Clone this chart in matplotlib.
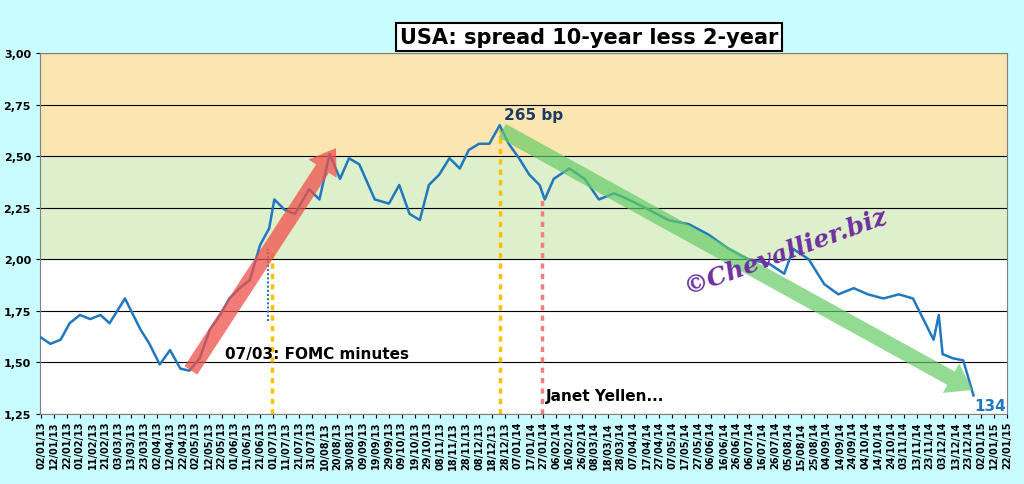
import numpy as np
import matplotlib
matplotlib.use("Agg")
import matplotlib.pyplot as plt

# ── data (days after 02/01/2013, spread in %) ──────────────────────────────
days = [0, 7, 15, 22, 30, 38, 46, 53, 65, 77, 84, 92, 100, 108, 115, 123, 131, 139,
        146, 154, 162, 170, 177, 181, 189, 197, 208, 216, 224, 232, 239, 247, 259,
        270, 278, 286, 294, 301, 309, 317, 325, 332, 340, 348, 356, 363, 371, 379,
        387, 391, 398, 410, 422, 433, 445, 456, 472, 487, 503, 518, 534, 549, 565,
        577, 584, 596, 608, 619, 631, 642, 654, 666, 677, 685, 693, 697, 700, 708,
        716, 724]
spread = [1.62, 1.59, 1.61, 1.69, 1.73, 1.71, 1.73, 1.69, 1.81, 1.66, 1.59, 1.49,
          1.56, 1.47, 1.46, 1.52, 1.66, 1.73, 1.81, 1.86, 1.90, 2.07, 2.15, 2.29,
          2.24, 2.22, 2.34, 2.29, 2.51, 2.39, 2.49, 2.46, 2.29, 2.27, 2.36, 2.22,
          2.19, 2.36, 2.41, 2.49, 2.44, 2.53, 2.56, 2.56, 2.65, 2.56, 2.49, 2.41,
          2.36, 2.29, 2.39, 2.44, 2.39, 2.29, 2.32, 2.29, 2.24, 2.19, 2.17, 2.12,
          2.05, 2.00, 1.98, 1.93, 2.05, 2.00, 1.88, 1.83, 1.86, 1.83, 1.81, 1.83,
          1.81, 1.71, 1.61, 1.73, 1.54, 1.52, 1.51, 1.34]
start = np.datetime64("2013-01-02")
tick_days = np.arange(0, 751, 10)
tick_labels = [(start + np.timedelta64(int(d), "D")).astype(object).strftime("%d/%m/%y")
               for d in tick_days]
yticks = [1.25, 1.50, 1.75, 2.00, 2.25, 2.50, 2.75, 3.00]

BG = "#C8FCFF"
LINE = "#1F78C0"

fig = plt.figure(figsize=(10.24, 4.85), dpi=100, facecolor=BG)
ax = fig.add_axes([40 / 1024, 70 / 485, 967 / 1024, 361 / 485])
ax.set_facecolor("white")

ax.axhspan(2.5, 3.0, color="#FBE5B0", zorder=0)
ax.axhspan(2.0, 2.5, color="#DDEFCB", zorder=0)
for y in yticks:
    ax.axhline(y, color="black", lw=0.8, zorder=1)

# dotted markers
ax.plot([179, 179], [1.25, 2.05], color="#FFC000", ls=(0, (1.5, 1.5)), lw=2.5, zorder=2)
ax.plot([176, 176], [1.70, 2.05], color="#2E75B6", ls=(0, (1, 1)), lw=1.5, zorder=2)
ax.plot([356, 356], [1.25, 2.63], color="#FFC000", ls=(0, (1.5, 1.5)), lw=2.5, zorder=2)
ax.plot([389, 389], [1.25, 2.29], color="#F08080", ls=(0, (1.5, 1.5)), lw=2.5, zorder=2)

ax.plot(days, spread, color=LINE, lw=1.8, zorder=3)

# trend arrows
astyle = "simple,head_width=2.2,head_length=1.6,tail_width=1.0"
ax.annotate("", xy=(230, 2.55), xytext=(115, 1.45),
            arrowprops=dict(arrowstyle=astyle, mutation_scale=11,
                            color="#F0504A", alpha=0.75, lw=0), zorder=4)
ax.annotate("", xy=(725, 1.36), xytext=(356, 2.63),
            arrowprops=dict(arrowstyle=astyle, mutation_scale=11,
                            color="#66CC66", alpha=0.7, lw=0), zorder=4)

ax.text(143, 1.52, "07/03: FOMC minutes", fontsize=11, fontweight="bold", zorder=5)
ax.text(359, 2.68, "265 bp", fontsize=11, fontweight="bold", color="#1F3864", zorder=5)
ax.text(392, 1.32, "Janet Yellen...", fontsize=11, fontweight="bold", zorder=5)
ax.text(725, 1.27, "134", fontsize=11, fontweight="bold", color=LINE, zorder=5)
ax.text(578, 2.04, "©Chevallier.biz", fontsize=18, fontstyle="italic", fontweight="bold",
        color="#7030A0", rotation=20, ha="center", va="center", family="DejaVu Serif",
        zorder=5)

ax.set_xlim(-1, 749)
ax.set_ylim(1.25, 3.0)
ax.set_yticks(yticks)
ax.set_yticklabels([f"{y:.2f}".replace(".", ",") for y in yticks],
                   fontsize=8, fontweight="bold")
ax.set_xticks(tick_days)
ax.set_xticklabels(tick_labels, rotation=90, fontsize=7, fontweight="bold")
ax.tick_params(axis="x", length=3, pad=2)
ax.tick_params(axis="y", length=3)
for s in ax.spines.values():
    s.set_color("#808080")

fig.text(589 / 1024, 447 / 485, "USA: spread 10-year less 2-year", fontsize=15,
         fontweight="bold", ha="center", va="center",
         bbox=dict(facecolor="white", edgecolor="black", lw=1.5, pad=3))

fig.savefig("out.png", facecolor=BG)
